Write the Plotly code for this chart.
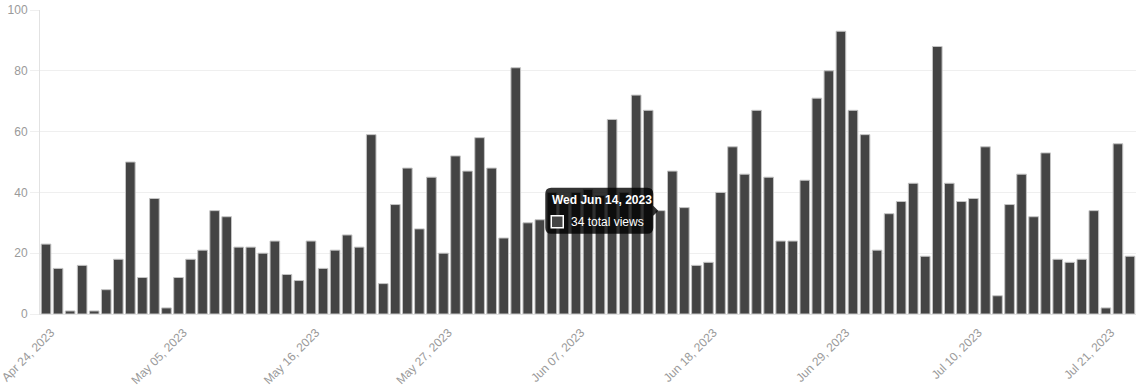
import pandas as pd
import plotly.graph_objects as go

# ---- data ----
start_date = "2023-04-24"
views = [23, 15, 1, 16, 1, 8, 18, 50, 12, 38,
         2, 12, 18, 21, 34, 32, 22, 22, 20, 24,
         13, 11, 24, 15, 21, 26, 22, 59, 10, 36,
         48, 28, 45, 20, 52, 47, 58, 48, 25, 81,
         30, 31, 40, 38, 40, 41, 39, 64, 40, 72,
         67, 34, 47, 35, 16, 17, 40, 55, 46, 67,
         45, 24, 24, 44, 71, 80, 93, 67, 59, 21,
         33, 37, 43, 19, 88, 43, 37, 38, 55, 6,
         36, 46, 32, 53, 18, 17, 18, 34, 2, 56, 19]
dates = pd.date_range(start_date, periods=len(views), freq="D")
label_dates = dates[::11]
y_ticks = [0, 20, 40, 60, 80, 100]
tooltip_index = 51          # Wed Jun 14, 2023
tooltip_suffix = "total views"

# ---- style ----
BAR = "#444444"
BAR_EDGE = "#c4c4c4"
GRID = "#efefef"
AXIS = "#e2e2e2"
TICK_TXT = "#9a9a9a"
FONT = "Liberation Sans, Arial, Helvetica, sans-serif"

half_day = pd.Timedelta(hours=12)
x_range = [dates[0] - half_day, dates[-1] + half_day]

fig = go.Figure()
fig.add_trace(go.Bar(
    x=dates, y=views,
    marker=dict(color=BAR, line=dict(color=BAR_EDGE, width=1)),
    hoverinfo="skip",
))

fig.update_layout(
    width=1136, height=392,
    margin=dict(l=40, r=0, t=10, b=78),
    paper_bgcolor="white", plot_bgcolor="white",
    bargap=0.2,
    showlegend=False,
    font=dict(family=FONT, size=12, color=TICK_TXT),
    xaxis=dict(
        type="date", range=x_range, automargin=False,
        tickmode="array", tickvals=list(label_dates),
        tickformat="%b %d, %Y", tickangle=-45,
        ticklabeloverflow="allow", ticklabelstandoff=6, ticklabelshift=5,
        showgrid=False, ticks="", zeroline=False,
        showline=True, linecolor=AXIS, linewidth=1,
        tickfont=dict(size=12, color=TICK_TXT, family=FONT),
    ),
    xaxis2=dict(
        type="date", overlaying="x", matches="x", range=x_range,
        automargin=False,
        tick0=dates[16] + half_day, dtick=22 * 86400000,
        showgrid=True, gridcolor=GRID, gridwidth=1,
        ticks="outside", ticklen=9, tickcolor=GRID,
        showticklabels=False, zeroline=False, showline=False,
    ),
    yaxis=dict(
        range=[0, 100], tickmode="array", tickvals=y_ticks, automargin=False,
        showgrid=True, gridcolor=GRID, gridwidth=1,
        ticks="outside", ticklen=9, tickcolor=GRID,
        ticklabeloverflow="allow",
        zeroline=False, showline=True, linecolor=AXIS, linewidth=1,
        tickfont=dict(size=12, color=TICK_TXT, family=FONT),
    ),
)

# ---- static tooltip anchored on the hovered bar ----
tx = dates[tooltip_index]
ty = views[tooltip_index]
L, R, T, B, r = -115, -7, 23, -23, 6
tip, caret = -2, 5
path = (f"M {L+r},{T} L {R-r},{T} Q {R},{T} {R},{T-r} "
        f"L {R},{caret} L {tip},0 L {R},{-caret} "
        f"L {R},{B+r} Q {R},{B} {R-r},{B} L {L+r},{B} Q {L},{B} {L},{B+r} "
        f"L {L},{T-r} Q {L},{T} {L+r},{T} Z")
fig.add_shape(type="path", path=path, xref="x", yref="y",
              xsizemode="pixel", ysizemode="pixel", xanchor=tx, yanchor=ty,
              fillcolor="rgba(0,0,0,0.8)", line=dict(width=0))
fig.add_shape(type="rect", xref="x", yref="y",
              xsizemode="pixel", ysizemode="pixel", xanchor=tx, yanchor=ty,
              x0=-109, x1=-97, y0=-17, y1=-5,
              fillcolor=BAR, line=dict(color="white", width=1.5))

title_txt = tx.strftime("%a %b %d, %Y")
fig.add_annotation(x=tx, y=ty, xref="x", yref="y", showarrow=False,
                   text=f"<b>{title_txt}</b>", xanchor="left", yanchor="middle",
                   xshift=-110, yshift=11,
                   font=dict(family=FONT, size=12, color="white"))
fig.add_annotation(x=tx, y=ty, xref="x", yref="y", showarrow=False,
                   text=f"{ty} {tooltip_suffix}", xanchor="left", yanchor="middle",
                   xshift=-91, yshift=-11,
                   font=dict(family=FONT, size=12, color="white"))

# remove the browser's default 8px body margin so the figure fills the window
fig.write_html("out.html",
               config={"displayModeBar": False},
               post_script="document.body.style.margin='0px';")
